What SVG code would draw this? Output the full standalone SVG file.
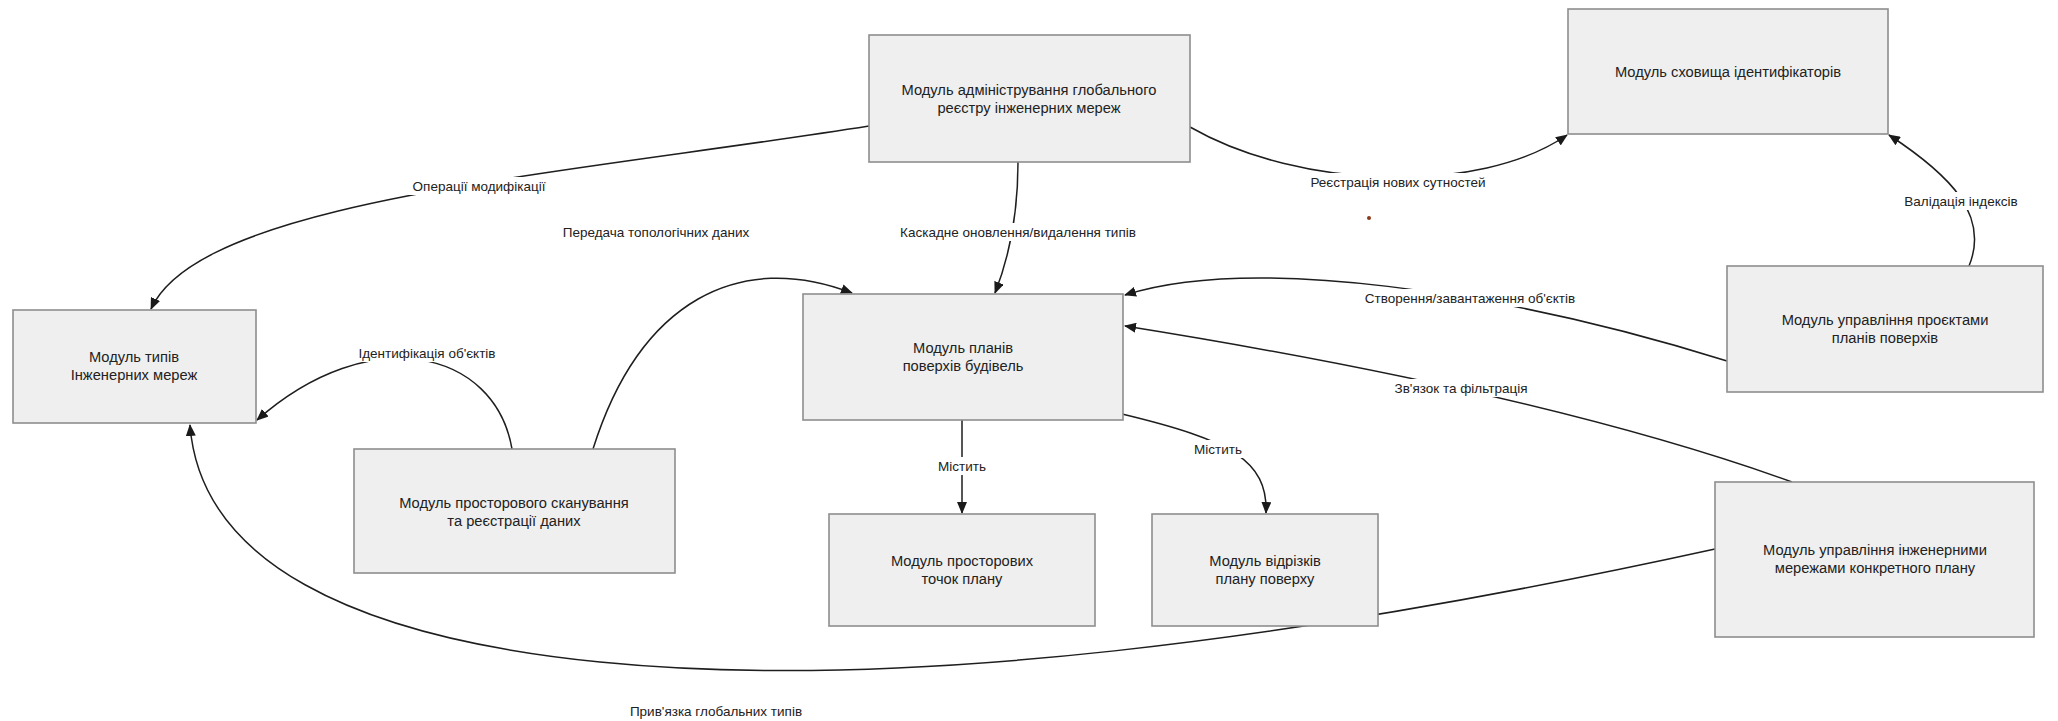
<svg xmlns="http://www.w3.org/2000/svg" width="2058" height="721" viewBox="0 0 2058 721">
  <defs>
    <marker id="arrow" viewBox="0 0 12 10" refX="11" refY="5" markerWidth="12" markerHeight="10" markerUnits="userSpaceOnUse" orient="auto">
      <path d="M0,0 L12,5 L0,10 Z" fill="#1a1a1a"/>
    </marker>
  </defs>
  <style>
    .box { fill: #efefef; stroke: #8e8e8e; stroke-width: 1.6; }
    .ntext { font-family: "Liberation Sans", Arial, sans-serif; font-size: 14.7px; fill: #222; text-anchor: middle; dominant-baseline: central; }
    .edge { fill: none; stroke: #1e1e1e; stroke-width: 1.5; marker-end: url(#arrow); }
    .ltext { font-family: "Liberation Sans", Arial, sans-serif; font-size: 13.5px; fill: #222; text-anchor: middle; dominant-baseline: central; }
    .lbg { fill: #ffffff; }
  </style>
  <rect width="2058" height="721" fill="#ffffff"/>

  <!-- connectors -->
  <g id="connectors">
    <path class="edge" d="M869,126 C560,175 200,200 151,309"/>
    <path class="edge" d="M1018,162 C1018,210 1010,255 995,293"/>
    <path class="edge" d="M1190,127 C1300,190 1480,195 1567,135"/>
    <path class="edge" d="M1969,266 C1990,215 1950,175 1889,135"/>
    <path class="edge" d="M1727,361 C1500,290 1250,255 1125,295"/>
    <path class="edge" d="M1792,482 C1620,420 1400,370 1125,326"/>
    <path class="edge" d="M593,449 C640,300 740,250 852,293"/>
    <path class="edge" d="M512,449 C495,350 370,320 257,420"/>
    <path class="edge" d="M962,420 L962,513"/>
    <path class="edge" d="M1122,414 C1230,440 1268,460 1266,513"/>
    <path class="edge" d="M1715,549 C1300,640 900,692 600,662 C350,637 200,560 190,425"/>

    <!-- edge labels -->
    <g id="edge-labels">
      <rect class="lbg" x="406" y="177" width="146" height="18"/>
      <text class="ltext" x="479" y="186">Операції модифікації</text>
      <rect class="lbg" x="889" y="223" width="258" height="18"/>
      <text class="ltext" x="1018" y="232">Каскадне оновлення/видалення типів</text>
      <rect class="lbg" x="1303" y="173" width="190" height="18"/>
      <text class="ltext" x="1398" y="182">Реєстрація нових сутностей</text>
      <rect class="lbg" x="1898" y="192" width="126" height="18"/>
      <text class="ltext" x="1961" y="201">Валідація індексів</text>
      <rect class="lbg" x="1355" y="289" width="230" height="18"/>
      <text class="ltext" x="1470" y="298">Створення/завантаження об'єктів</text>
      <rect class="lbg" x="351" y="344" width="152" height="18"/>
      <text class="ltext" x="427" y="353">Ідентифікація об'єктів</text>
      <rect class="lbg" x="1388" y="379" width="146" height="18"/>
      <text class="ltext" x="1461" y="388">Зв'язок та фільтрація</text>
      <rect class="lbg" x="935" y="457" width="54" height="18"/>
      <text class="ltext" x="962" y="466">Містить</text>
      <rect class="lbg" x="1191" y="440" width="54" height="18"/>
      <text class="ltext" x="1218" y="449">Містить</text>
      <text class="ltext" x="656" y="232">Передача топологічних даних</text>
      <text class="ltext" x="716" y="711">Прив'язка глобальних типів</text>
    </g>
  </g>

  <!-- nodes -->
  <g id="node-admin">
    <rect class="box" x="869" y="35" width="321" height="127"/>
    <text class="ntext" x="1029" y="90">Модуль адміністрування глобального</text>
    <text class="ntext" x="1029" y="108">реєстру інженерних мереж</text>
  </g>
  <g id="node-ids">
    <rect class="box" x="1568" y="9" width="320" height="125"/>
    <text class="ntext" x="1728" y="72">Модуль сховища ідентифікаторів</text>
  </g>
  <g id="node-types">
    <rect class="box" x="13" y="310" width="243" height="113"/>
    <text class="ntext" x="134" y="357">Модуль типів</text>
    <text class="ntext" x="134" y="375">Інженерних мереж</text>
  </g>
  <g id="node-plans">
    <rect class="box" x="803" y="294" width="320" height="126"/>
    <text class="ntext" x="963" y="348">Модуль планів</text>
    <text class="ntext" x="963" y="366">поверхів будівель</text>
  </g>
  <g id="node-scan">
    <rect class="box" x="354" y="449" width="321" height="124"/>
    <text class="ntext" x="514" y="503">Модуль просторового сканування</text>
    <text class="ntext" x="514" y="521">та реєстрації даних</text>
  </g>
  <g id="node-points">
    <rect class="box" x="829" y="514" width="266" height="112"/>
    <text class="ntext" x="962" y="561">Модуль просторових</text>
    <text class="ntext" x="962" y="579">точок плану</text>
  </g>
  <g id="node-segments">
    <rect class="box" x="1152" y="514" width="226" height="112"/>
    <text class="ntext" x="1265" y="561">Модуль відрізків</text>
    <text class="ntext" x="1265" y="579">плану поверху</text>
  </g>
  <g id="node-projects">
    <rect class="box" x="1727" y="266" width="316" height="126"/>
    <text class="ntext" x="1885" y="320">Модуль управління проєктами</text>
    <text class="ntext" x="1885" y="338">планів поверхів</text>
  </g>
  <g id="node-networks">
    <rect class="box" x="1715" y="482" width="319" height="155"/>
    <text class="ntext" x="1875" y="550">Модуль управління інженерними</text>
    <text class="ntext" x="1875" y="568">мережами конкретного плану</text>
  </g>

  <circle cx="1369" cy="218" r="2" fill="#8a3a1a"/>
</svg>
